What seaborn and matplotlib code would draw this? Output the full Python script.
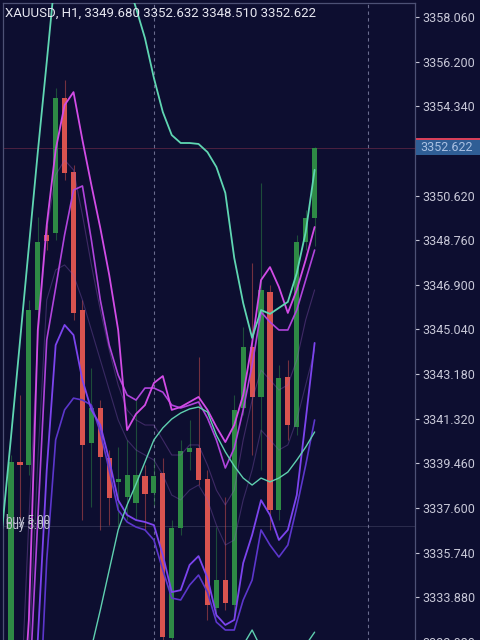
import numpy as np
import pandas as pd
import matplotlib
matplotlib.use("Agg")
import matplotlib.pyplot as plt
from matplotlib.patches import Rectangle
import seaborn as sns

# ---------------- data ----------------
symbol_title = "XAUUSD, H1, 3349.680 3352.632 3348.510 3352.622"
opens  = [3330.02, 3339.52, 3339.40, 3345.85, 3348.98, 3349.06, 3354.69, 3351.60, 3345.85, 3340.31,
          3341.77, 3339.69, 3338.69, 3338.06, 3337.81, 3338.94, 3338.23, 3339.06, 3332.19, 3336.77,
          3339.94, 3340.10, 3338.81, 3333.44, 3334.60, 3333.56, 3341.77, 3344.31, 3342.23, 3346.60,
          3337.52, 3343.06, 3340.98, 3348.69, 3349.68]
highs  = [3339.81, 3342.31, 3346.27, 3349.73, 3349.40, 3355.10, 3355.44, 3351.89, 3346.27, 3343.44,
          3342.10, 3340.02, 3340.15, 3340.44, 3342.19, 3339.40, 3339.69, 3339.69, 3337.10, 3340.44,
          3341.27, 3343.90, 3339.19, 3336.81, 3338.06, 3342.31, 3345.15, 3347.81, 3351.15, 3346.90,
          3343.56, 3343.77, 3348.98, 3350.02, 3352.632]
lows   = [3329.60, 3337.10, 3338.98, 3345.52, 3348.35, 3348.77, 3351.27, 3345.44, 3337.10, 3337.64,
          3336.69, 3336.90, 3336.81, 3337.10, 3337.10, 3336.69, 3337.73, 3331.90, 3331.77, 3336.48,
          3339.19, 3338.56, 3332.94, 3333.06, 3333.35, 3333.15, 3341.48, 3339.81, 3339.19, 3336.69,
          3337.10, 3340.44, 3340.65, 3348.35, 3348.51]
closes = [3339.52, 3339.40, 3345.85, 3348.69, 3348.73, 3354.69, 3351.56, 3345.73, 3340.23, 3341.77,
          3339.73, 3338.02, 3338.81, 3338.98, 3338.98, 3338.19, 3338.94, 3332.23, 3336.77, 3339.98,
          3340.10, 3338.77, 3333.56, 3334.60, 3333.65, 3341.69, 3344.31, 3342.23, 3346.69, 3337.52,
          3343.02, 3341.06, 3348.69, 3349.69, 3352.622]

# indicator lines, bar index -1 .. 34
band_upper = [3336.69, 3340.56, 3344.52, 3348.48, 3352.43, 3356.18, 3360.02, 3363.77, 3366.27, 3367.10,
              3367.10, 3365.85, 3363.77, 3361.27, 3359.60, 3358.43, 3357.18, 3355.52, 3354.10, 3353.14,
              3352.81, 3352.81, 3352.77, 3352.43, 3351.81, 3350.73, 3348.02, 3346.14, 3344.69, 3345.85,
              3345.69, 3345.94, 3346.19, 3347.39, 3349.10, 3351.69]
# bar index 8 .. 34
band_middle = [3330.02, 3331.77, 3333.35, 3335.02, 3336.69, 3337.73, 3338.60, 3339.52, 3340.44, 3340.94,
               3341.31, 3341.56, 3341.73, 3341.81, 3341.60, 3340.64, 3339.94, 3339.35, 3338.85, 3338.56,
               3338.85, 3338.69, 3338.85, 3339.10, 3339.60, 3340.14, 3340.77]
# bar index 24 .. 34
band_lower = [3330.43, 3331.27, 3331.89, 3332.52, 3331.77, 3331.27, 3331.18, 3331.35, 3331.60, 3331.89,
              3332.43]
# bar index -1 .. 34
ma_fast = [3317.10, 3321.27, 3327.10, 3332.94, 3345.02, 3349.39, 3352.52, 3354.39, 3354.93, 3352.93,
           3351.06, 3349.27, 3347.31, 3345.02, 3340.85, 3341.52, 3341.89, 3342.81, 3343.10, 3341.69,
           3341.81, 3342.02, 3342.23, 3341.69, 3340.98, 3340.35, 3341.06, 3342.31, 3344.48, 3347.10,
           3347.64, 3346.81, 3345.73, 3346.69, 3347.94, 3349.31]
ma_mid = [3312.93, 3317.93, 3323.35, 3329.60, 3337.10, 3344.60, 3346.77, 3348.98, 3350.85, 3351.02,
          3348.77, 3346.27, 3344.39, 3343.14, 3342.31, 3342.10, 3342.60, 3342.60, 3342.43, 3341.89,
          3341.77, 3341.89, 3342.02, 3341.35, 3340.44, 3339.27, 3340.10, 3341.69, 3343.56, 3345.77,
          3345.35, 3345.02, 3345.02, 3345.85, 3347.10, 3348.35]
ma_faint1 = [3317.10, 3322.10, 3328.77, 3337.10, 3344.60, 3349.19, 3351.48, 3352.10, 3351.69, 3349.81,
             3347.73, 3345.85, 3344.19, 3342.73, 3341.69, 3341.27, 3341.06, 3341.06, 3340.44, 3339.81,
             3339.81, 3340.23, 3340.23, 3339.39, 3338.35, 3337.73, 3338.35, 3340.44, 3342.10, 3343.35,
             3342.94, 3342.52, 3342.73, 3343.77, 3345.44, 3346.69]
ma_faint2 = [3313.77, 3318.77, 3324.60, 3331.27, 3339.60, 3346.27, 3347.52, 3347.73, 3347.31, 3346.27,
             3345.02, 3343.77, 3342.52, 3341.27, 3340.44, 3340.02, 3339.81, 3339.60, 3338.98, 3338.14,
             3337.94, 3338.35, 3338.56, 3337.94, 3336.89, 3336.06, 3336.27, 3337.94, 3339.19, 3340.85,
             3340.44, 3340.02, 3340.23, 3341.27, 3342.73, 3344.19]
ma_slow1 = [3315.02, 3319.18, 3323.35, 3327.52, 3332.10, 3339.18, 3344.39, 3345.23, 3344.81, 3342.93,
            3341.69, 3341.06, 3339.60, 3337.93, 3337.31, 3337.10, 3337.02, 3336.89, 3335.64, 3334.10,
            3334.18, 3335.23, 3335.60, 3334.69, 3333.14, 3332.73, 3332.94, 3335.31, 3336.48, 3337.93,
            3337.31, 3336.27, 3336.69, 3338.14, 3341.27, 3344.48]
ma_slow2 = [3310.85, 3315.02, 3319.18, 3323.35, 3327.52, 3335.43, 3340.44, 3341.69, 3342.18, 3342.10,
            3341.89, 3340.77, 3339.18, 3337.52, 3337.02, 3336.81, 3336.69, 3336.27, 3335.02, 3333.85,
            3333.77, 3334.39, 3334.81, 3334.10, 3332.85, 3332.52, 3332.52, 3333.77, 3334.60, 3336.69,
            3336.06, 3335.56, 3336.06, 3337.64, 3339.39, 3341.27]

price_ticks = [3358.060, 3356.200, 3354.340, 3350.620, 3348.760, 3346.900, 3345.040,
               3343.180, 3341.320, 3339.460, 3337.600, 3335.740, 3333.880, 3332.020]
order_level = 3336.85
order_label = "buy 5.00"
session_breaks = [16, 40]

# ---------------- style ----------------
BG = "#0d0e30"
sns.set_theme(style="dark")
plt.rcParams["font.family"] = ["Roboto", "DejaVu Sans"]

fig = plt.figure(figsize=(4.8, 6.4), dpi=100, facecolor=BG)
W, H = 480, 640
ax = fig.add_axes([3 / W, -20 / H, 412 / W, 657 / H])
ax.set_facecolor(BG)

n = len(opens)
idx = np.arange(n)
df = pd.DataFrame({"i": idx, "o": opens, "h": highs, "l": lows, "c": closes})
df["up"] = df["c"] >= df["o"]
GREEN, RED = "#2e8a45", "#d9534f"
cols = np.where(df["up"], GREEN, RED)

# wicks and bodies
ax.vlines(df["i"], df["l"], df["h"], colors=cols, linewidth=0.8, alpha=0.5, zorder=2)
bottoms = np.minimum(df["o"], df["c"])
heights = np.maximum(np.abs(df["c"] - df["o"]), 0.08)
ax.bar(df["i"], heights, bottom=bottoms, width=0.58, color=cols, linewidth=0, zorder=3)

# indicator lines
def line(xs, ys, color, lw, alpha=1.0):
    sns.lineplot(x=list(xs), y=list(ys), ax=ax, color=color, linewidth=lw, alpha=alpha,
                 estimator=None, sort=False, legend=False, zorder=5)

x_full = np.arange(-1, n)
line(x_full, ma_faint2, "#8a5cc0", 0.8, 0.35)
line(x_full, ma_faint1, "#9a5cc8", 0.8, 0.35)
line(x_full, ma_slow2, "#5c36cc", 1.2)
line(x_full, ma_slow1, "#7c44ee", 1.3)
line(x_full, ma_mid, "#b044dc", 1.2)
line(x_full, ma_fast, "#d24ce6", 1.3)
line(x_full, band_upper, "#5fd6b2", 1.3)
line(np.arange(8, n), band_middle, "#5fd0b0", 1.0)
line(np.arange(24, n), band_lower, "#5fd0b0", 1.0)

# session separators
for b in session_breaks:
    ax.axvline(b, color="#8a8cae", lw=0.8, ls=(0, (3, 3)), alpha=0.75, zorder=1)

# current price line and order line
last = closes[-1]
ax.axhline(last, color="#b0405a", lw=0.6, alpha=0.45, zorder=1)
ax.axhline(order_level, color="#9a9ab8", lw=0.6, alpha=0.25, zorder=1)
ax.text(-0.55, order_level + 0.24, order_label, color="#c4c4d4", fontsize=8.5, zorder=6,
        va="center", ha="left")
ax.text(-0.55, order_level + 0.02, order_label, color="#c4c4d4", fontsize=8.5, zorder=6,
        va="center", ha="left")

# axes limits / ticks
ax.set_xlim(-0.896, 45.24)
ax.set_ylim(3331.27, 3358.643)
ax.set_xticks([])
ax.yaxis.tick_right()
ax.set_yticks(price_ticks)
ax.set_yticklabels([f"{t:.3f}" for t in price_ticks])
ax.tick_params(axis="y", colors="#c8c8d8", labelsize=9, length=3, width=0.8, pad=2,
               labelcolor="#c8c8d8", right=True, left=False)
ax.set_xlabel("")
ax.set_ylabel("")
ax.grid(False)
for s in ["left", "top", "right"]:
    ax.spines[s].set_visible(True)
    ax.spines[s].set_color("#4d5175")
    ax.spines[s].set_linewidth(0.9)
ax.spines["bottom"].set_visible(False)

# title
fig.text(5 / W, 1 - 13 / H, symbol_title, color="#e6e6f0", fontsize=9.5, va="center", ha="left")

# current price tag
fig.canvas.draw()
ypix = ax.transData.transform((0, last))[1]
yf = ypix / H
tag_h = 15 / H
fig.patches.append(Rectangle((416 / W, yf - tag_h / 2), 64 / W, tag_h, transform=fig.transFigure,
                             facecolor="#2f5e95", edgecolor="none", zorder=10))
fig.patches.append(Rectangle((416 / W, yf + tag_h / 2), 64 / W, 2.5 / H, transform=fig.transFigure,
                             facecolor="#d8405a", edgecolor="none", zorder=10))
fig.text(420 / W, yf, f"{last:.3f}", color="#a9c0e2", fontsize=9, va="center", ha="left", zorder=11)

fig.savefig("out.png", dpi=100, facecolor=BG)
